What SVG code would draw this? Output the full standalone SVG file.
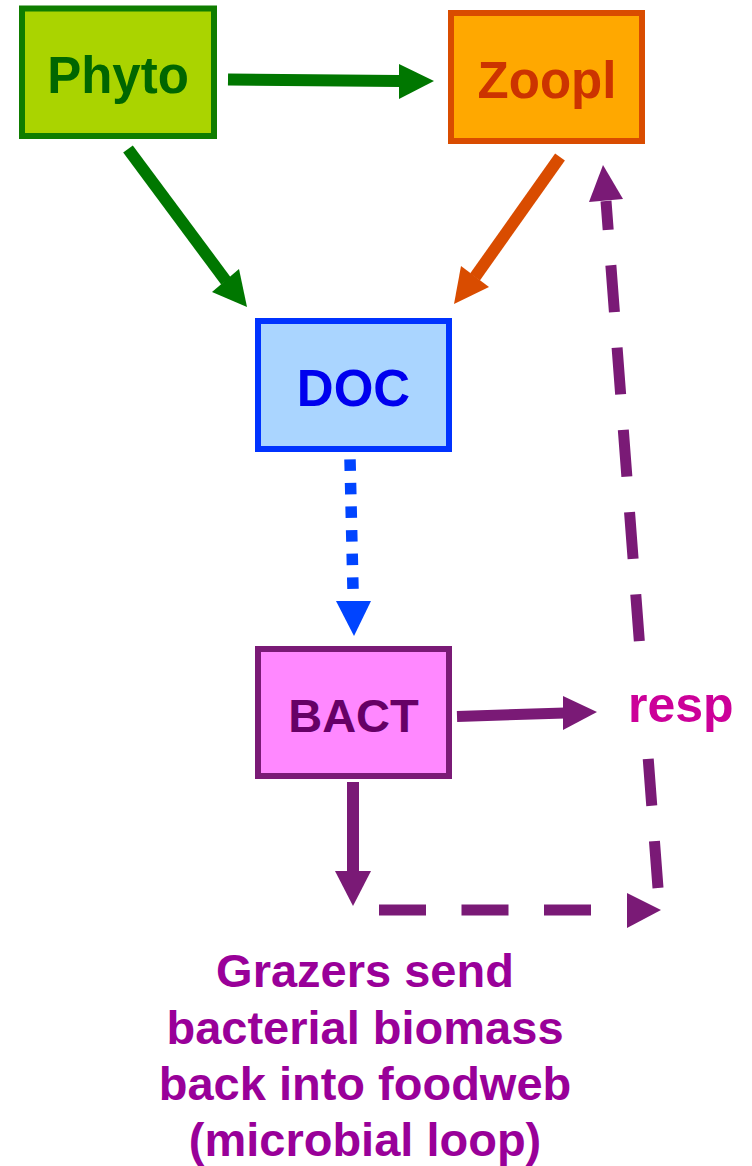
<svg xmlns="http://www.w3.org/2000/svg" width="752" height="1166" viewBox="0 0 752 1166">
  <style>
    .lbl { font-family: "Liberation Sans", Arial, sans-serif; font-weight: bold; text-anchor: middle; }
    .box { stroke-width: 6; }
    .ln { fill: none; stroke-linecap: butt; }
    .green { stroke: #007700; }
    .greenf { fill: #007700; }
    .orange { stroke: #D94C00; }
    .orangef { fill: #D94C00; }
    .blue { stroke: #0044FF; }
    .bluef { fill: #0044FF; }
    .purple { stroke: #7A1A76; }
    .purplef { fill: #7A1A76; }
  </style>
  <rect width="752" height="1166" fill="#FFFFFF"/>

  <g id="connectors">
    <!-- Phyto -> Zoopl -->
    <line class="ln green" x1="228" y1="79.5" x2="400" y2="81" stroke-width="12"/>
    <polygon class="greenf" points="399,64 434,81 399,99"/>
    <!-- Phyto -> DOC -->
    <line class="ln green" x1="128" y1="149" x2="226" y2="281" stroke-width="12"/>
    <polygon class="greenf" points="212,292 247,307 239,269"/>
    <!-- Zoopl -> DOC -->
    <line class="ln orange" x1="560" y1="157" x2="475" y2="277" stroke-width="12"/>
    <polygon class="orangef" points="461,266 454,304 489,287"/>
    <!-- DOC -> BACT (dotted) -->
    <line class="ln blue" x1="350" y1="459.3" x2="353" y2="589.5" stroke-width="11.5" stroke-dasharray="11.5 12.1"/>
    <polygon class="bluef" points="336,601 371,601 354,636"/>
    <!-- BACT -> resp -->
    <line class="ln purple" x1="457" y1="716.5" x2="565" y2="713" stroke-width="11"/>
    <polygon class="purplef" points="563,696 597,712 563,730"/>
    <!-- BACT -> down -->
    <line class="ln purple" x1="353" y1="782" x2="353" y2="872" stroke-width="12"/>
    <polygon class="purplef" points="335,871 371,871 353,906"/>
    <!-- dashed bottom -> right -->
    <line class="ln purple" x1="379" y1="910" x2="626" y2="910" stroke-width="11" stroke-dasharray="47 35.5"/>
    <polygon class="purplef" points="627,893 661,910 627,928"/>
    <!-- dashed up to Zoopl (gap around resp) -->
    <line class="ln purple" x1="658" y1="888" x2="606" y2="201" stroke-width="11" stroke-dasharray="47 35.5 47 118 47 35.5 47 35.5 47 35.5 47 35.5 47 35.5 47 35.5 47 35.5"/>
    <polygon class="purplef" points="589,202 623,199 603,165"/>
  </g>

  <g id="node-phyto">
    <rect class="box" x="22" y="8.5" width="192" height="127.5" fill="#AAD400" stroke="#0F7D00"/>
    <text class="lbl" x="118" y="93" font-size="51" fill="#006600">Phyto</text>
  </g>

  <g id="node-zoopl">
    <rect class="box" x="451" y="13" width="191" height="128" fill="#FFA800" stroke="#D94C00"/>
    <text class="lbl" x="547" y="97.5" font-size="51" fill="#CC3300">Zoopl</text>
  </g>

  <g id="node-doc">
    <rect class="box" x="258" y="321" width="191" height="128" fill="#AAD5FF" stroke="#0033FF"/>
    <text class="lbl" x="353.5" y="406" font-size="51" fill="#0000EE">DOC</text>
  </g>

  <g id="node-bact">
    <rect class="box" x="258" y="649" width="191" height="127" fill="#FF88FF" stroke="#7A1A76"/>
    <text class="lbl" x="353.5" y="732" font-size="47" fill="#660066">BACT</text>
  </g>

  <g id="label-resp">
    <text x="628" y="722" font-family="'Liberation Sans', Arial, sans-serif" font-weight="bold" font-size="50" fill="#CC0099">resp</text>
  </g>

  <g id="label-loop" class="lbl" font-size="47" fill="#990099">
    <text class="lbl" x="365" y="987">Grazers send</text>
    <text class="lbl" x="365" y="1044">bacterial biomass</text>
    <text class="lbl" x="365" y="1100">back into foodweb</text>
    <text class="lbl" x="365" y="1156">(microbial loop)</text>
  </g>
</svg>
